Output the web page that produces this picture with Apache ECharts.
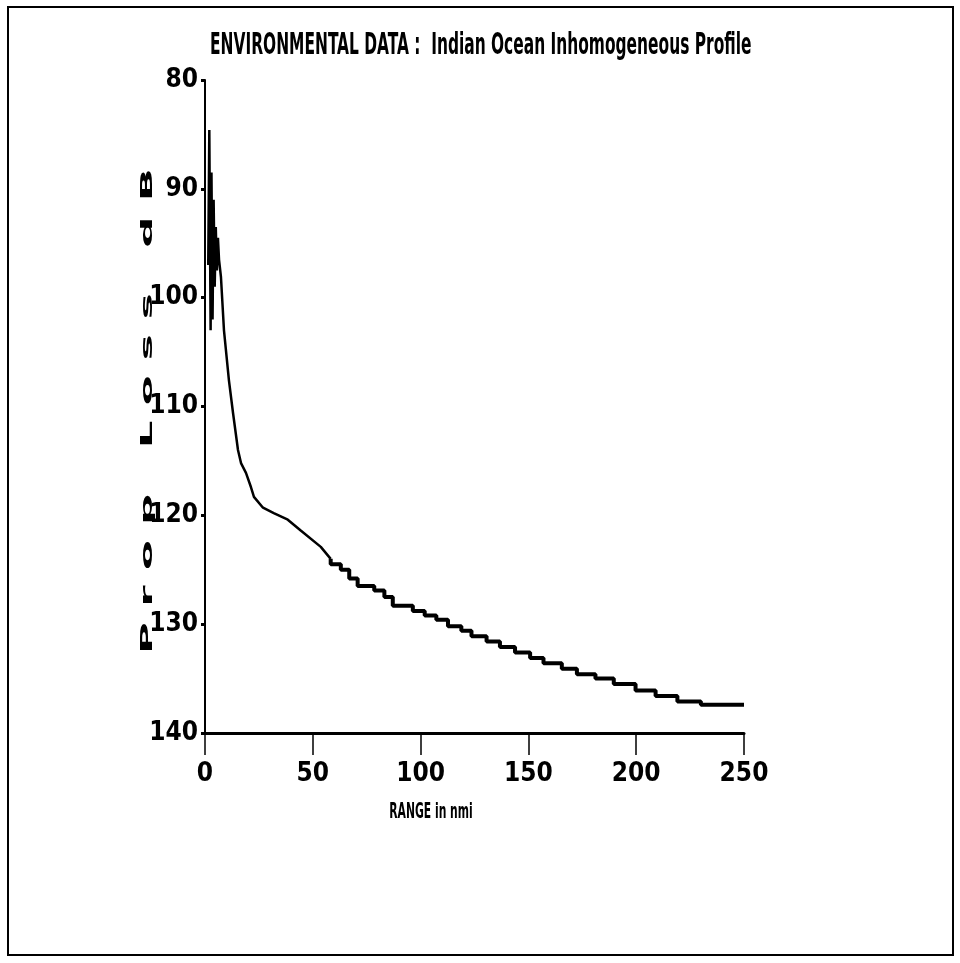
<!DOCTYPE html>
<html>
<head>
<meta charset="utf-8">
<script src="https://cdn.jsdelivr.net/npm/echarts@6/dist/echarts.min.js"></script>
<style>
  html, body { margin: 0; padding: 0; background: #fff; }
  #chart { width: 960px; height: 963px; }
</style>
</head>
<body>
<div id="chart"></div>
<script>
// Propagation loss (dB) against range (nmi), Indian Ocean inhomogeneous profile.
// Near-field part of the curve, including the noisy spike close to the source.
const headRange = [1.5, 2.0, 2.6, 3.0, 3.5, 4.0, 4.5, 5.0, 5.5, 6.0, 6.5, 7.4, 8.8, 11.1, 13.0, 15.3, 16.7, 19.0, 21.3, 22.7, 26.9, 31.9, 38.4, 44.4, 53.7, 58.3];
const headLoss  = [97.0, 84.6, 103.0, 88.5, 102.0, 91.0, 99.0, 93.5, 97.5, 94.5, 96.5, 98.1, 103.0, 107.6, 110.6, 114.0, 115.2, 116.1, 117.4, 118.3, 119.3, 119.8, 120.4, 121.4, 122.9, 124.0];

// Far-field part, drawn as the stepped trace of the plotter.
const tailRange = [58.3, 63.0, 66.9, 70.8, 78.5, 83.2, 87.1, 96.4, 101.9, 107.3, 112.7, 118.9, 123.6, 130.6, 136.8, 143.8, 150.8, 157.0, 165.5, 172.5, 181.1, 189.6, 199.7, 209.0, 219.1, 230.0, 241.7, 250.0];
const tailLoss  = [124.0, 124.5, 125.0, 125.8, 126.5, 126.9, 127.5, 128.3, 128.8, 129.2, 129.6, 130.2, 130.6, 131.1, 131.6, 132.1, 132.6, 133.1, 133.6, 134.1, 134.6, 135.0, 135.5, 136.1, 136.6, 137.1, 137.4, 137.4];

const xTicks = [0, 50, 100, 150, 200, 250];
const yTicks = [80, 90, 100, 110, 120, 130, 140];

const titleText = 'ENVIRONMENTAL DATA :  Indian Ocean Inhomogeneous Profile';
const xName = 'RANGE in nmi';
const yName = 'P r o p   L o s s   d B';

const narrow = '"Liberation Sans Narrow", "DejaVu Sans Condensed", "Arial Narrow", sans-serif';

function pairs(xs, ys) { return xs.map((x, i) => [x, ys[i]]); }

const chart = echarts.init(document.getElementById('chart'), null, { renderer: 'canvas' });

chart.setOption({
  backgroundColor: '#ffffff',
  animation: false,
  grid: { left: 205, right: 216, top: 80, bottom: 230, containLabel: false },
  xAxis: {
    type: 'value',
    min: xTicks[0],
    max: xTicks[xTicks.length - 1],
    interval: 50,
    axisLine: { show: true, onZero: false, lineStyle: { color: '#000', width: 3 } },
    axisTick: { show: true, inside: false, length: 22, lineStyle: { color: '#000', width: 1.5 } },
    axisLabel: { margin: 28, fontFamily: narrow, fontSize: 26, fontWeight: 'bold', color: '#000' },
    splitLine: { show: false }
  },
  yAxis: {
    type: 'value',
    inverse: true,
    min: yTicks[0],
    max: yTicks[yTicks.length - 1],
    interval: 10,
    axisLine: { show: true, onZero: false, lineStyle: { color: '#000', width: 2 } },
    axisTick: { show: true, inside: false, length: 4, lineStyle: { color: '#000', width: 3 } },
    axisLabel: { margin: 7, fontFamily: narrow, fontSize: 26, fontWeight: 'bold', color: '#000' },
    splitLine: { show: false }
  },
  graphic: [
    // page frame
    {
      type: 'rect',
      shape: { x: 8, y: 7, width: 945, height: 948 },
      style: { fill: 'none', stroke: '#000', lineWidth: 2 },
      silent: true
    },
    // chart title, condensed
    {
      type: 'text',
      x: 210,
      y: 46,
      scaleX: 0.715,
      scaleY: 1.25,
      style: {
        text: titleText,
        font: 'bold 24px ' + narrow,
        fill: '#000',
        align: 'left',
        verticalAlign: 'middle'
      },
      silent: true
    },
    // x axis title
    {
      type: 'text',
      x: 431,
      y: 812,
      scaleX: 0.6,
      scaleY: 1.1,
      style: {
        text: xName,
        font: 'bold 20px ' + narrow,
        fill: '#000',
        align: 'center',
        verticalAlign: 'middle'
      },
      silent: true
    },
    // y axis title, running bottom to top
    {
      type: 'text',
      x: 148,
      y: 411,
      rotation: Math.PI / 2,
      scaleX: 2.85,
      scaleY: 0.9,
      style: {
        text: yName,
        font: 'bold 17px ' + narrow,
        fill: '#000',
        align: 'center',
        verticalAlign: 'middle'
      },
      silent: true
    }
  ],
  series: [
    {
      type: 'line',
      data: pairs(headRange, headLoss),
      showSymbol: false,
      symbol: 'none',
      lineStyle: { color: '#000', width: 2.5 }
    },
    {
      type: 'line',
      data: pairs(tailRange, tailLoss),
      step: 'start',
      showSymbol: false,
      symbol: 'none',
      lineStyle: { color: '#000', width: 4 }
    }
  ]
});
</script>
</body>
</html>
